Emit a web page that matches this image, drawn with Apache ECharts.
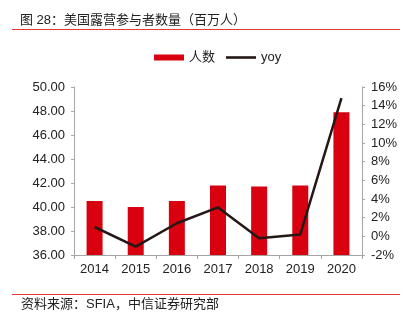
<!DOCTYPE html>
<html>
<head>
<meta charset="utf-8">
<script src="https://cdn.jsdelivr.net/npm/echarts@6/dist/echarts.min.js"></script>
<style>
  html, body { margin: 0; padding: 0; background: #fff; }
  #chart { width: 415px; height: 324px; }
</style>
</head>
<body>
<div id="chart"></div>
<script>
// 美国露营参与者数量（百万人）及同比
const years = ['2014', '2015', '2016', '2017', '2018', '2019', '2020'];
const participants = [40.5, 40.0, 40.5, 41.8, 41.7, 41.8, 47.9];
const yoy = [1.0, -1.1, 1.4, 3.1, -0.2, 0.2, 14.8];

const FONT = '"Liberation Sans", Arial, "Noto Sans CJK SC", sans-serif';
const AXIS_GREY = '#a6a6a6';

const chart = echarts.init(document.getElementById('chart'), null, { renderer: 'canvas' });

chart.setOption({
  animation: false,
  backgroundColor: '#fff',
  textStyle: { fontFamily: FONT },
  title: {
    text: '图 28：美国露营参与者数量（百万人）',
    left: 20, top: 14, padding: 0,
    textStyle: { fontSize: 13, fontWeight: 'normal', color: '#222', fontFamily: FONT }
  },
  graphic: [
    { type: 'line', shape: { x1: 12, y1: 29.5, x2: 400, y2: 29.5 }, style: { stroke: '#e8383d', lineWidth: 1 } },
    { type: 'line', shape: { x1: 12, y1: 294.5, x2: 400, y2: 294.5 }, style: { stroke: '#e8383d', lineWidth: 1 } },
    { type: 'text', left: 21, top: 298, style: { text: '资料来源：SFIA，中信证券研究部', font: '13px ' + FONT, fill: '#222' } }
  ],
  legend: {
    left: 154, top: 51, padding: 0,
    itemGap: 11,
    itemWidth: 30, itemHeight: 6,
    textStyle: { fontSize: 13, color: '#222', fontFamily: FONT },
    data: [
      { name: '人数', icon: 'rect' },
      { name: 'yoy', icon: 'path://M0 0 H30 V2.6 H0 Z' }
    ]
  },
  grid: { left: 74, right: 53, top: 87, bottom: 69, containLabel: false },
  xAxis: {
    type: 'category',
    data: years,
    boundaryGap: true,
    axisLine: { onZero: false, lineStyle: { color: AXIS_GREY, width: 1 } },
    axisTick: { show: true, length: 4, lineStyle: { color: AXIS_GREY } },
    axisLabel: { fontSize: 13, color: '#222', margin: 8, fontFamily: FONT }
  },
  yAxis: [
    {
      type: 'value', min: 36, max: 50, interval: 2,
      axisLine: { show: true, lineStyle: { color: AXIS_GREY } },
      axisTick: { show: true, length: 3, lineStyle: { color: AXIS_GREY } },
      splitLine: { show: false },
      axisLabel: { fontSize: 13, color: '#222', margin: 9, fontFamily: FONT, formatter: v => v.toFixed(2) }
    },
    {
      type: 'value', min: -2, max: 16, interval: 2,
      axisLine: { show: true, lineStyle: { color: AXIS_GREY } },
      axisTick: { show: true, length: 3, lineStyle: { color: AXIS_GREY } },
      splitLine: { show: false },
      axisLabel: { fontSize: 13, color: '#222', margin: 9, fontFamily: FONT, formatter: v => v + '%' }
    }
  ],
  series: [
    {
      name: '人数', type: 'bar', yAxisIndex: 0,
      data: participants,
      barWidth: 16,
      itemStyle: { color: '#d9000f' }
    },
    {
      name: 'yoy', type: 'line', yAxisIndex: 1,
      data: yoy,
      symbol: 'none',
      lineStyle: { color: '#231815', width: 2.5 },
      itemStyle: { color: '#231815' }
    }
  ]
});
</script>
</body>
</html>
